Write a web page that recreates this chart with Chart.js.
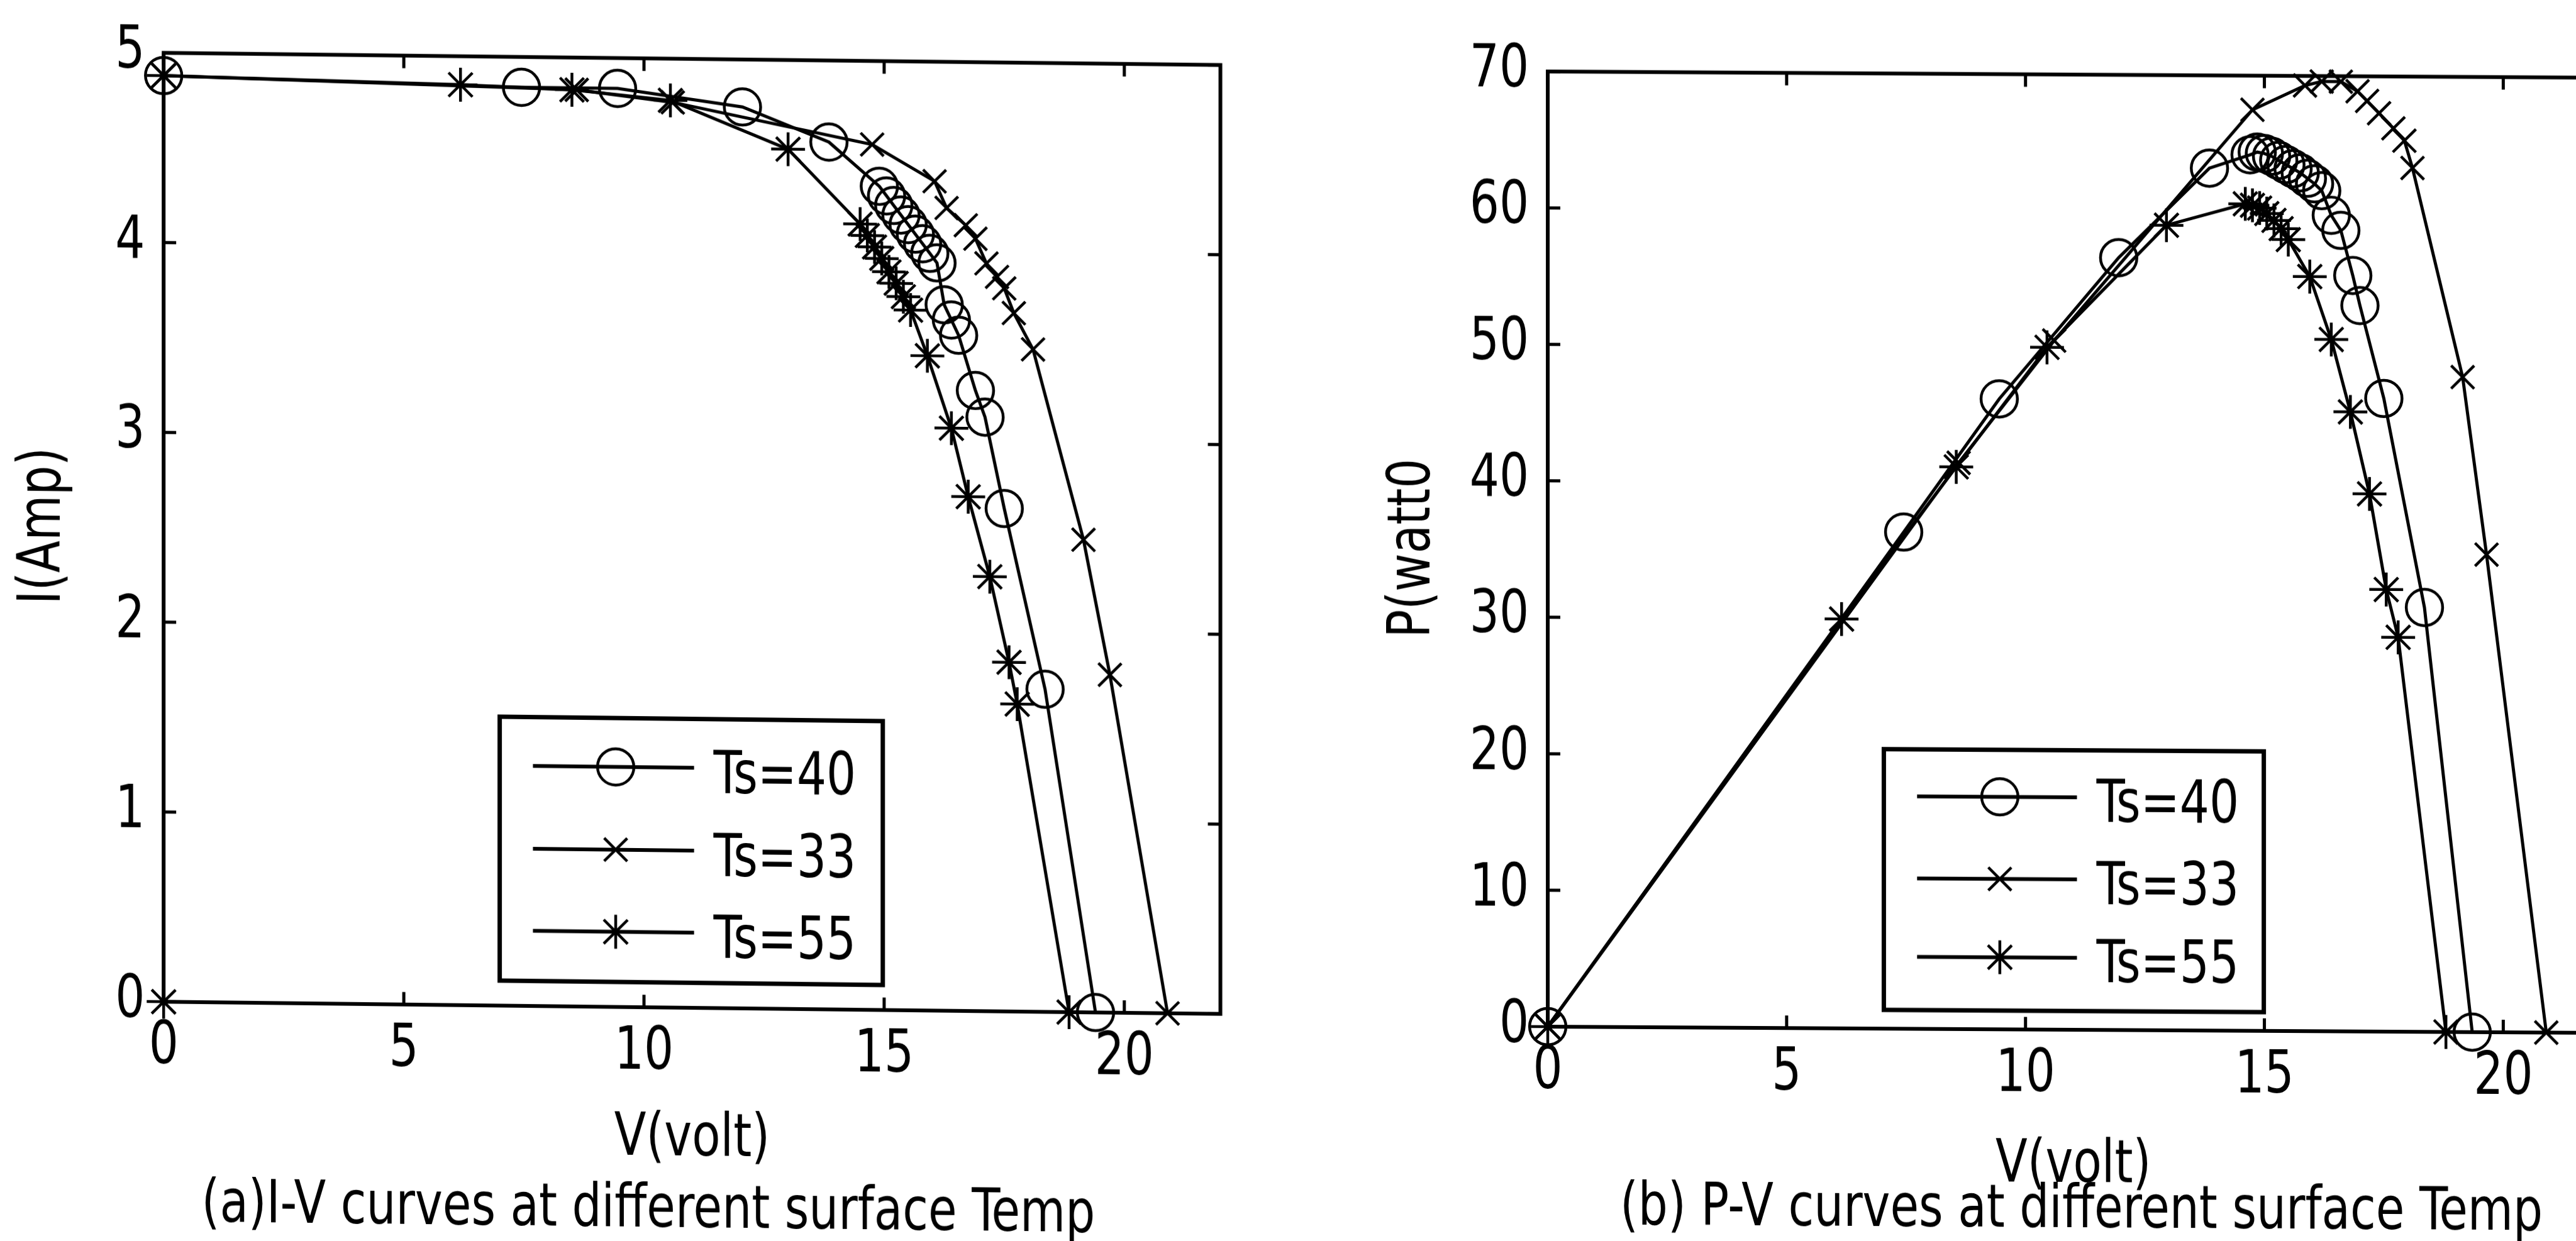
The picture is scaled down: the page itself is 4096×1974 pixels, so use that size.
<!DOCTYPE html>
<html>
<head>
<meta charset="utf-8">
<script src="https://cdn.jsdelivr.net/npm/chart.js@4.4.1/dist/chart.umd.min.js"></script>
<style>
  html, body { margin: 0; padding: 0; background: #fff; overflow: hidden; width: 4096px; height: 1974px; }
  canvas { position: absolute; top: 0; }
</style>
</head>
<body>
<canvas id="ivChart"></canvas>
<canvas id="pvChart"></canvas>
<script>
// ---------------- data ----------------
const seriesLabels = ['Ts=40', 'Ts=33', 'Ts=55'];

const xTickValues = [0, 5, 10, 15, 20];
const xTickLabels = ['0', '5', '10', '15', '20'];
const ivTickValues = [0, 1, 2, 3, 4, 5];
const ivTickLabels = ['0', '1', '2', '3', '4', '5'];
const pvTickValues = [0, 10, 20, 30, 40, 50, 60, 70];
const pvTickLabels = ['0', '10', '20', '30', '40', '50', '60', '70'];

// (a) I-V curves
const ivVolt40 = [0, 7.45, 9.45, 12.05, 13.85, 14.9, 15.05, 15.2, 15.35, 15.5, 15.65, 15.8, 15.95, 16.1, 16.25, 16.4, 16.55, 16.9, 17.1, 17.5, 18.35, 19.4];
const ivAmp40  = [4.88, 4.84, 4.84, 4.75, 4.57, 4.34, 4.29, 4.24, 4.19, 4.14, 4.09, 4.04, 3.99, 3.94, 3.72, 3.64, 3.56, 3.27, 3.13, 2.65, 1.70, 0];
const ivVolt33 = [0, 8.6, 10.6, 14.75, 16.05, 16.3, 16.7, 16.9, 17.13, 17.35, 17.5, 17.7, 18.1, 19.15, 19.7, 20.9];
const ivAmp33  = [4.88, 4.83, 4.77, 4.56, 4.37, 4.23, 4.14, 4.07, 3.94, 3.87, 3.81, 3.68, 3.49, 2.49, 1.78, 0];
const ivVolt55 = [0, 0, 6.18, 8.5, 10.55, 13.0, 14.5, 14.65, 14.8, 14.95, 15.1, 15.25, 15.4, 15.55, 15.9, 16.4, 16.75, 17.2, 17.6, 17.77, 18.85];
const ivAmp55  = [0, 4.88, 4.85, 4.83, 4.78, 4.53, 4.14, 4.08, 4.02, 3.96, 3.89, 3.83, 3.76, 3.69, 3.45, 3.07, 2.71, 2.29, 1.84, 1.62, 0];

// (b) P-V curves
const pvVolt40 = [0, 7.45, 9.45, 11.95, 13.85, 14.7, 14.85, 15.0, 15.15, 15.3, 15.45, 15.6, 15.75, 15.9, 16.05, 16.2, 16.4, 16.6, 16.85, 17.0, 17.5, 18.35, 19.35];
const pvWatt40 = [0, 36.4, 46.2, 56.6, 63.2, 64.2, 64.4, 64.3, 64.1, 63.8, 63.5, 63.2, 62.9, 62.5, 62.1, 61.6, 59.8, 58.7, 55.4, 53.2, 46.4, 31.1, 0];
const pvVolt33 = [0, 8.6, 10.6, 14.75, 15.85, 16.2, 16.6, 16.95, 17.15, 17.4, 17.7, 17.93, 18.1, 19.15, 19.65, 20.9];
const pvWatt33 = [0, 41.5, 50.5, 67.5, 69.3, 69.6, 69.6, 68.9, 68.2, 67.3, 66.2, 65.3, 63.3, 48.0, 35.0, 0];
const pvVolt55 = [0, 6.15, 8.55, 10.45, 12.95, 14.6, 14.75, 14.9, 15.05, 15.2, 15.35, 15.5, 15.95, 16.4, 16.8, 17.2, 17.55, 17.8, 18.8];
const pvWatt55 = [0, 30.0, 41.2, 50.0, 59.0, 60.6, 60.5, 60.3, 59.9, 59.4, 58.8, 58.0, 55.3, 50.7, 45.4, 39.4, 32.4, 28.9, 0];

// ---------------- styling / layout ----------------
const S = 0.997;                 // global scale
const R = v => v * S;
const FONT = "'Liberation Sans Narrow', 'Arial Narrow', 'DejaVu Sans Condensed', 'Liberation Sans', sans-serif";
const FS = R(95);
const TEXT_SQUEEZE = 0.87;       // the scanned figure uses a narrow face
Chart.defaults.font.family = FONT;
Chart.defaults.color = '#000';

const markerStyles = [
  { pointStyle: 'circle',   pointRadius: R(29) },
  { pointStyle: 'crossRot', pointRadius: R(26) },
  { pointStyle: 'star',     pointRadius: R(27) }
];

function toPoints(xs, ys) { return xs.map((x, i) => ({ x: x, y: ys[i] })); }

function makeDataset(i, xs, ys) {
  const m = markerStyles[i];
  return {
    label: seriesLabels[i],
    data: toPoints(xs, ys),
    showLine: true,
    borderColor: '#000',
    borderWidth: R(5),
    pointStyle: m.pointStyle,
    pointRadius: m.pointRadius,
    pointHoverRadius: m.pointRadius,
    pointBorderWidth: R(4.5),
    pointBorderColor: '#000',
    pointBackgroundColor: 'rgba(0,0,0,0)',
    tension: 0,
    fill: false,
    clip: false
  };
}

function drawMarker(ctx, style, r, x, y) {
  if (Chart.helpers && Chart.helpers.drawPoint) {
    Chart.helpers.drawPoint(ctx, { pointStyle: style, radius: r, rotation: 0, borderWidth: ctx.lineWidth }, x, y);
    return;
  }
  ctx.beginPath();
  if (style === 'circle') { ctx.arc(x, y, r, 0, Math.PI * 2); }
  else {
    const d = r * Math.SQRT1_2;
    ctx.moveTo(x - d, y - d); ctx.lineTo(x + d, y + d);
    ctx.moveTo(x - d, y + d); ctx.lineTo(x + d, y - d);
    if (style === 'star') { ctx.moveTo(x, y - r); ctx.lineTo(x, y + r); ctx.moveTo(x - r, y); ctx.lineTo(x + r, y); }
  }
  ctx.stroke();
}

// narrow every text run drawn on a context (keeps the anchor point fixed)
function squeezeText(ctx, k) {
  const native = ctx.fillText;
  ctx.fillText = function (text, x, y, maxWidth) {
    this.save();
    this.translate(x, y);
    this.scale(k, 1);
    if (maxWidth === undefined) native.call(this, text, 0, 0);
    else native.call(this, text, 0, 0, maxWidth / k);
    this.restore();
  };
}

// MATLAB-like boxed axes with inward ticks, boxed legend and figure caption
const matlabFrame = {
  id: 'matlabFrame',
  afterDatasetsDraw(chart, args, o) {
    const ctx = chart.ctx;
    const a = chart.chartArea;
    const xs = chart.scales.x, ys = chart.scales.y;
    ctx.save();
    ctx.strokeStyle = '#000';
    ctx.lineWidth = o.frameWidth;
    ctx.strokeRect(a.left, a.top, a.right - a.left, a.bottom - a.top);
    ctx.lineWidth = o.tickWidth;
    ctx.beginPath();
    xs.ticks.forEach(t => {
      const p = xs.getPixelForValue(t.value);
      ctx.moveTo(p, a.bottom); ctx.lineTo(p, a.bottom - o.tickLen);
      ctx.moveTo(p, a.top); ctx.lineTo(p, a.top + o.tickLen);
    });
    ys.ticks.forEach(t => {
      const p = ys.getPixelForValue(t.value);
      ctx.moveTo(a.left, p); ctx.lineTo(a.left + o.tickLen, p);
      ctx.moveTo(a.right, p); ctx.lineTo(a.right - o.tickLen, p);
    });
    ctx.stroke();

    // legend box
    const L = o.legend;
    ctx.fillStyle = '#fff';
    ctx.fillRect(L.x, L.y, L.w, L.h);
    ctx.lineWidth = L.border;
    ctx.strokeRect(L.x, L.y, L.w, L.h);
    chart.data.datasets.forEach((ds, i) => {
      const yy = L.rows[i];
      ctx.lineWidth = L.lineWidth;
      ctx.beginPath(); ctx.moveTo(L.lineX0, yy); ctx.lineTo(L.lineX1, yy); ctx.stroke();
      ctx.lineWidth = ds.pointBorderWidth;
      ctx.fillStyle = 'rgba(0,0,0,0)';
      drawMarker(ctx, ds.pointStyle, ds.pointRadius, L.markX, yy);
      ctx.fillStyle = '#000';
      ctx.font = FS + 'px ' + FONT;
      ctx.textAlign = 'left';
      ctx.textBaseline = 'alphabetic';
      ctx.fillText(ds.label, L.textX, yy + L.textDy);
    });

    // caption under the axes
    const c = o.caption;
    ctx.fillStyle = '#000';
    ctx.font = FS + 'px ' + FONT;
    ctx.textAlign = 'center';
    ctx.textBaseline = 'middle';
    ctx.fillText(c.text, c.x, c.y);
    ctx.restore();
  }
};

function buildChart(canvasId, cfg) {
  const cv = document.getElementById(canvasId);
  const w = Math.round(R(cfg.width)), h = Math.round(R(cfg.height));
  cv.width = w; cv.height = h;
  cv.style.width = w + 'px'; cv.style.height = h + 'px';
  cv.style.left = Math.round(R(cfg.left)) + 'px';
  // the scanned figure is slightly sheared; reproduce it around the plot centre
  cv.style.transformOrigin = R(cfg.skewOriginX) + 'px ' + R(900) + 'px';
  cv.style.transform = 'skewY(' + cfg.skewDeg + 'deg)';
  const ctx = cv.getContext('2d');
  squeezeText(ctx, TEXT_SQUEEZE);
  const tickFont = { size: FS, family: FONT };
  return new Chart(ctx, {
    type: 'scatter',
    data: { datasets: cfg.datasets },
    options: {
      responsive: false,
      animation: false,
      devicePixelRatio: 1,
      events: [],
      layout: { padding: { left: R(cfg.pad.left), right: R(cfg.pad.right), top: R(cfg.pad.top), bottom: R(cfg.pad.bottom) } },
      plugins: {
        legend: { display: false },
        tooltip: { enabled: false },
        title: { display: false },
        matlabFrame: {
          frameWidth: R(6), tickWidth: R(5), tickLen: R(20),
          legend: {
            x: R(cfg.legend.x), y: R(cfg.legend.y), w: R(cfg.legend.w), h: R(cfg.legend.h),
            border: R(7), lineWidth: R(6),
            rows: cfg.legend.rows.map(R),
            lineX0: R(cfg.legend.lineX0), lineX1: R(cfg.legend.lineX1),
            markX: R(cfg.legend.markX), textX: R(cfg.legend.textX), textDy: R(cfg.legend.textDy)
          },
          caption: { text: cfg.caption, x: R(cfg.captionX), y: R(cfg.captionY) }
        }
      },
      scales: {
        x: {
          type: 'linear', position: 'bottom', min: 0, max: 22,
          afterBuildTicks: s => { s.ticks = xTickValues.map(v => ({ value: v })); },
          afterFit: s => { s.height = R(cfg.xAxisH); },
          grid: { display: false, drawTicks: false, tickLength: 0 },
          border: { display: false },
          ticks: { font: tickFont, color: '#000', padding: R(cfg.xTickPad), maxRotation: 0, autoSkip: false,
                   callback: (v, i) => xTickLabels[i] },
          title: { display: true, text: 'V(volt)', font: tickFont, color: '#000', padding: { top: R(cfg.xTitlePad), bottom: 0 } }
        },
        y: {
          type: 'linear', position: 'left', min: 0, max: cfg.yMax,
          afterBuildTicks: s => { s.ticks = cfg.yTickValues.map(v => ({ value: v })); },
          afterFit: s => { s.width = R(cfg.yAxisW); },
          grid: { display: false, drawTicks: false, tickLength: 0 },
          border: { display: false },
          ticks: { font: tickFont, color: '#000', padding: R(cfg.yTickPad), autoSkip: false,
                   callback: (v, i) => cfg.yTickLabels[i] },
          title: { display: true, text: cfg.yTitle, font: tickFont, color: '#000', padding: { top: R(cfg.yTitlePad), bottom: 0 } }
        }
      }
    },
    plugins: [matlabFrame]
  });
}

// (a) I-V chart, canvas starts at reference x = 0
buildChart('ivChart', {
  left: 0, width: 2150, height: 1978,
  skewDeg: 0.66, skewOriginX: 1104,
  pad: { left: 0, right: 204, top: 94, bottom: 102 },
  yAxisW: 261, xAxisH: 268,
  xTickPad: 17, yTickPad: 30, xTitlePad: 19, yTitlePad: 14,
  yMax: 5, yTickValues: ivTickValues, yTickLabels: ivTickLabels, yTitle: 'I(Amp)',
  datasets: [makeDataset(0, ivVolt40, ivAmp40), makeDataset(1, ivVolt33, ivAmp33), makeDataset(2, ivVolt55, ivAmp55)],
  legend: { x: 797, y: 1147, w: 611, h: 421, rows: [1225, 1357, 1488], lineX0: 850, lineX1: 1107, markX: 982, textX: 1138, textDy: 40 },
  caption: '(a)I-V curves at different surface Temp', captionX: 1034, captionY: 1933
});

// (b) P-V chart, canvas starts at reference x = 2150
buildChart('pvChart', {
  left: 2150, width: 2100, height: 1978,
  skewDeg: 0.34, skewOriginX: 1156,
  pad: { left: 0, right: 106, top: 119, bottom: 60 },
  yAxisW: 318, xAxisH: 275,
  xTickPad: 17, yTickPad: 30, xTitlePad: 15, yTitlePad: 48,
  yMax: 70, yTickValues: pvTickValues, yTickLabels: pvTickLabels, yTitle: 'P(watt0',
  datasets: [makeDataset(0, pvVolt40, pvWatt40), makeDataset(1, pvVolt33, pvWatt33), makeDataset(2, pvVolt55, pvWatt55)],
  legend: { x: 854, y: 1197, w: 606, h: 416, rows: [1272, 1403, 1528], lineX0: 907, lineX1: 1162, markX: 1039, textX: 1193, textDy: 39 },
  caption: '(b) P-V curves at different surface Temp', captionX: 1169, captionY: 1933
});
</script>
</body>
</html>
